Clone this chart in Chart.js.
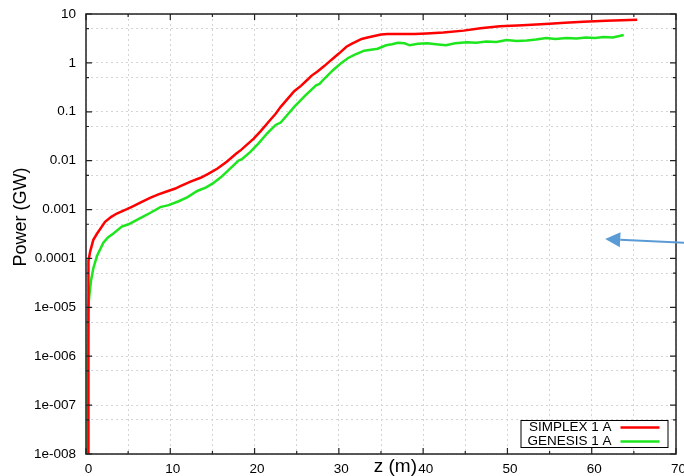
<!DOCTYPE html>
<html>
<head>
<meta charset="utf-8">
<script src="https://cdn.jsdelivr.net/npm/chart.js@4.4.1/dist/chart.umd.min.js"></script>
<style>
html,body{margin:0;padding:0;background:#fff;}
canvas{display:block;}
</style>
</head>
<body>
<canvas id="c" width="684" height="476"></canvas>
<script>
// ---- data ----
const seriesNames = ['SIMPLEX 1 A', 'GENESIS 1 A'];

const zRed = [0.25,0.27,0.28,0.32,0.5,0.87,1.3,2.26,3.0,3.66,4.85,5.5,6.44,7.6,8.6,9.4,10.6,11.2,12.4,13.6,14.5,15.6,16.7,17.8,18.4,19.9,20.7,21.7,22.5,23.1,24.3,24.7,25.5,26.3,26.7,27.5,28.3,29.1,30.0,30.9,31.5,32.7,33.4,35.0,35.8,37.0,39.0,40.4,42.4,44.8,46.8,49.1,51.8,55.0,56.8,59.0,61.7,65.4];
const pRed = [1e-8,1e-6,3.2e-5,8.9e-5,1.4e-4,2.4e-4,3.2e-4,5.6e-4,7.1e-4,8.3e-4,1.02e-3,1.15e-3,1.38e-3,1.74e-3,2.04e-3,2.29e-3,2.69e-3,3.02e-3,3.72e-3,4.47e-3,5.37e-3,6.92e-3,9.55e-3,0.0138,0.0166,0.0282,0.0398,0.0631,0.0912,0.126,0.219,0.263,0.339,0.457,0.537,0.676,0.871,1.15,1.55,2.14,2.45,3.09,3.31,3.80,3.89,3.89,3.89,3.98,4.17,4.57,5.13,5.62,5.89,6.31,6.61,6.92,7.24,7.59];

const zGreen = [0.12,0.17,0.2,0.27,0.4,0.6,0.87,1.3,2.06,2.6,3.25,4.25,5.04,5.6,6.83,7.6,8.82,9.8,11.0,12.0,13.2,14.2,15.0,16.0,17.0,18.1,18.5,19.5,20.5,21.5,22.5,23.1,23.9,24.7,26.0,27.3,27.7,28.3,29.3,30.3,31.1,31.9,33.0,33.4,34.6,35.6,36.3,37.0,37.8,38.4,39.4,40.5,41.5,42.7,43.8,45.2,46.3,47.5,48.7,49.9,51.1,52.3,53.4,54.6,55.7,57.0,58.2,59.3,60.4,61.4,62.5,63.8];
const pGreen = [1e-8,1e-7,1e-6,1e-5,1.78e-5,3.55e-5,6.3e-5,1.12e-4,2.09e-4,2.69e-4,3.24e-4,4.47e-4,5.0e-4,5.62e-4,7.24e-4,8.51e-4,1.12e-3,1.23e-3,1.48e-3,1.78e-3,2.40e-3,2.82e-3,3.39e-3,4.57e-3,6.61e-3,0.0100,0.0107,0.0151,0.0229,0.0363,0.0537,0.0603,0.0871,0.126,0.214,0.347,0.372,0.479,0.708,1.00,1.26,1.48,1.78,1.82,1.95,2.29,2.40,2.57,2.51,2.29,2.45,2.51,2.40,2.29,2.51,2.63,2.57,2.75,2.69,2.95,2.82,2.88,3.02,3.24,3.09,3.24,3.16,3.31,3.24,3.39,3.31,3.72];

const xTickValues = [0,10,20,30,40,50,60,70];
const xTickLabels = ['0','10','20','30','40','50','60','70'];
const xMinorValues = [5,15,25,35,45,55,65];
const yTickValues = [1e-8,1e-7,1e-6,1e-5,1e-4,1e-3,1e-2,1e-1,1,10];
const yTickLabels = ['1e-008','1e-007','1e-006','1e-005','0.0001','0.001','0.01','0.1','1','10'];
const yMinorValues = [5e-8,5e-7,5e-6,5e-5,5e-4,5e-3,5e-2,0.5,5];

const xTitle = 'z (m)';
const yTitle = 'Power (GW)';
// arrow annotation: tip and tail in data units
const arrowTip = {x: 61.6, y: 2.5e-4};
const arrowTail = {x: 71.0, y: 2.1e-4};

// ---- styling ----
const FONT = '"Liberation Sans", Arial, Helvetica, sans-serif';
const RED = '#ff0000';
const GREEN = '#1ee61e';

function sameVal(a, b) { return Math.abs(a - b) <= Math.abs(b) * 1e-6 + 1e-12; }

const framePlugin = {
  id: 'frame',
  beforeDraw(chart) {
    const ctx = chart.ctx;
    ctx.save();
    ctx.fillStyle = '#fff';
    ctx.fillRect(0, 0, chart.width, chart.height);
    ctx.restore();
  },
  afterDraw(chart) {
    const ctx = chart.ctx;
    const a = chart.chartArea;
    const xs = chart.scales.x, ys = chart.scales.y;
    ctx.save();
    // frame
    ctx.strokeStyle = '#222';
    ctx.lineWidth = 1.5;
    ctx.strokeRect(a.left, a.top, a.right - a.left, a.bottom - a.top);
    // ticks (inward)
    ctx.lineWidth = 1.2;
    ctx.beginPath();
    xTickValues.forEach(v => {
      const px = xs.getPixelForValue(v);
      ctx.moveTo(px, a.bottom); ctx.lineTo(px, a.bottom - 6);
      ctx.moveTo(px, a.top); ctx.lineTo(px, a.top + 6);
    });
    xMinorValues.forEach(v => {
      const px = xs.getPixelForValue(v);
      ctx.moveTo(px, a.bottom); ctx.lineTo(px, a.bottom - 3);
      ctx.moveTo(px, a.top); ctx.lineTo(px, a.top + 3);
    });
    yTickValues.forEach(v => {
      const py = ys.getPixelForValue(v);
      ctx.moveTo(a.left, py); ctx.lineTo(a.left + 6, py);
      ctx.moveTo(a.right, py); ctx.lineTo(a.right - 6, py);
    });
    yMinorValues.forEach(v => {
      const py = ys.getPixelForValue(v);
      ctx.moveTo(a.left, py); ctx.lineTo(a.left + 3, py);
      ctx.moveTo(a.right, py); ctx.lineTo(a.right - 3, py);
    });
    ctx.stroke();

    // axis titles
    ctx.fillStyle = '#000';
    ctx.font = '19px ' + FONT;
    ctx.textAlign = 'center';
    ctx.textBaseline = 'middle';
    ctx.fillText(xTitle, xs.getPixelForValue(36.7), 467);
    ctx.save();
    ctx.translate(21, (a.top + a.bottom) / 2 - 17);
    ctx.rotate(-Math.PI / 2);
    ctx.font = '18px ' + FONT;
    ctx.fillText(yTitle, 0, 0);
    ctx.restore();

    // legend box
    const boxR = a.right - 7.5, boxB = a.bottom - 6;
    const boxW = 148, boxH = 28;
    ctx.fillStyle = '#fff';
    ctx.fillRect(boxR - boxW, boxB - boxH, boxW, boxH);
    ctx.strokeStyle = '#000';
    ctx.lineWidth = 1;
    ctx.strokeRect(boxR - boxW + 0.5, boxB - boxH + 0.5, boxW - 1, boxH - 1);
    ctx.font = '13.5px ' + FONT;
    ctx.textAlign = 'right';
    ctx.textBaseline = 'middle';
    chart.data.datasets.forEach((ds, i) => {
      const cy = boxB - boxH + 7.5 + i * 14;
      ctx.fillStyle = '#000';
      ctx.fillText(ds.label, boxR - 57, cy);
      ctx.strokeStyle = ds.borderColor;
      ctx.lineWidth = 2.5;
      ctx.beginPath();
      ctx.moveTo(boxR - 48, cy); ctx.lineTo(boxR - 9, cy);
      ctx.stroke();
    });

    // arrow
    const tx = xs.getPixelForValue(arrowTip.x), ty = ys.getPixelForValue(arrowTip.y);
    const sx = xs.getPixelForValue(arrowTail.x), sy = ys.getPixelForValue(arrowTail.y);
    const ang = Math.atan2(ty - sy, tx - sx);
    const hl = 15, hw = 7.5;
    const bx = tx - hl * Math.cos(ang), by = ty - hl * Math.sin(ang);
    ctx.strokeStyle = '#5b9bd5';
    ctx.fillStyle = '#5b9bd5';
    ctx.lineWidth = 2;
    ctx.beginPath();
    ctx.moveTo(sx, sy); ctx.lineTo(bx, by);
    ctx.stroke();
    ctx.beginPath();
    ctx.moveTo(tx, ty);
    ctx.lineTo(bx + hw * Math.sin(ang), by - hw * Math.cos(ang));
    ctx.lineTo(bx - hw * Math.sin(ang), by + hw * Math.cos(ang));
    ctx.closePath();
    ctx.fill();
    ctx.restore();
  }
};

new Chart(document.getElementById('c'), {
  type: 'line',
  data: {
    datasets: [
      {
        label: seriesNames[0],
        data: zRed.map((z, i) => ({x: z, y: pRed[i]})),
        borderColor: RED, backgroundColor: RED,
        borderWidth: 2.5, pointRadius: 0, tension: 0, fill: false
      },
      {
        label: seriesNames[1],
        data: zGreen.map((z, i) => ({x: z, y: pGreen[i]})),
        borderColor: GREEN, backgroundColor: GREEN,
        borderWidth: 2.5, pointRadius: 0, tension: 0, fill: false
      }
    ]
  },
  options: {
    responsive: false,
    animation: false,
    devicePixelRatio: 1,
    layout: {padding: {left: 0, top: 14, right: 8, bottom: 0}},
    plugins: {legend: {display: false}, tooltip: {enabled: false}},
    scales: {
      x: {
        type: 'linear', min: 0, max: 70,
        afterFit(s) { s.height = 22; s.paddingLeft = 0; s.paddingRight = 0; },
        afterBuildTicks(s) {
          s.ticks = xTickValues.concat(xMinorValues).sort((a, b) => a - b).map(v => ({value: v}));
        },
        ticks: {
          autoSkip: false, maxRotation: 0, padding: 7, labelOffset: 2.5,
          color: '#000', font: {family: FONT, size: 13.5},
          callback(v) { const i = xTickValues.indexOf(v); return i >= 0 ? xTickLabels[i] : ''; }
        },
        grid: {color: '#d4d4d4', lineWidth: 1, drawTicks: false},
        border: {display: false, dash: [2, 3]}
      },
      y: {
        type: 'logarithmic', min: 1e-8, max: 10,
        afterFit(s) { s.width = 86; s.paddingTop = 0; s.paddingBottom = 0; },
        afterBuildTicks(s) {
          s.ticks = yTickValues.concat(yMinorValues).sort((a, b) => a - b).map(v => ({value: v}));
        },
        ticks: {
          autoSkip: false, padding: 10,
          color: '#000', font: {family: FONT, size: 13.5},
          callback(v) {
            for (let i = 0; i < yTickValues.length; i++) if (sameVal(v, yTickValues[i])) return yTickLabels[i];
            return '';
          }
        },
        grid: {color: '#d4d4d4', lineWidth: 1, drawTicks: false},
        border: {display: false, dash: [2, 3]}
      }
    }
  },
  plugins: [framePlugin]
});
</script>
</body>
</html>
